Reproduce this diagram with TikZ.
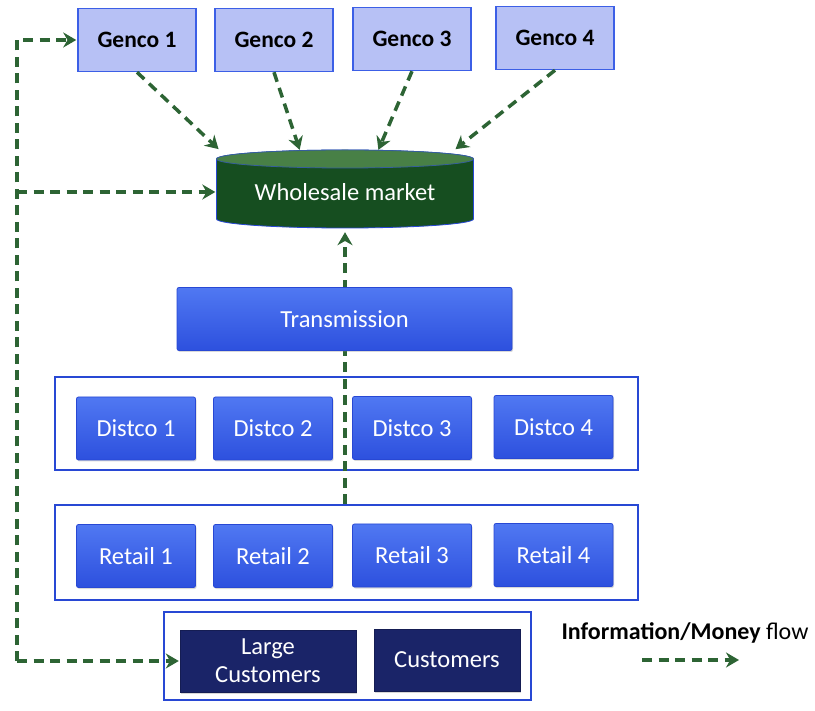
\documentclass[tikz,border=0pt]{standalone}
\usepackage{fontspec}
\setmainfont{Carlito}
\usetikzlibrary{arrows.meta,shadows,calc}

\definecolor{gencofill}{RGB}{183,193,245}
\definecolor{gencodraw}{RGB}{60,95,230}
\definecolor{wmbody}{RGB}{22,78,32}
\definecolor{wmtop}{RGB}{72,128,70}
\definecolor{bluetop}{RGB}{80,120,242}
\definecolor{bluebot}{RGB}{45,80,222}
\definecolor{bluedraw}{RGB}{40,72,212}
\definecolor{navy}{RGB}{26,36,104}
\definecolor{flowgreen}{RGB}{45,100,52}

\begin{document}
\begin{tikzpicture}[x=1pt,y=-1pt,
  lbl/.style={font=\fontsize{24.5}{28}\selectfont},
  genco/.style={draw=gencodraw, line width=1.5pt, fill=gencofill,
    minimum width=118pt, minimum height=63pt, inner sep=0pt,
    font=\fontsize{23.5}{28}\selectfont\bfseries, text=black},
  bluebox/.style={lbl, draw=bluedraw, line width=0.8pt, top color=bluetop,
    bottom color=bluebot, rounded corners=2pt, text=white,
    minimum width=119pt, minimum height=63pt, inner sep=0pt,
    drop shadow={shadow xshift=1pt, shadow yshift=-1.5pt, opacity=0.3}},
  navybox/.style={lbl, fill=navy, draw=navy!80!black, text=white,
    minimum height=62pt, inner sep=0pt, align=center,
    drop shadow={shadow xshift=1pt, shadow yshift=-1.5pt, opacity=0.3}},
  group/.style={draw=bluedraw, line width=1.5pt, fill=white, inner sep=0pt},
  flowline/.style={draw=flowgreen, line width=3.5pt, dash pattern=on 10pt off 6.5pt},
  flow/.style={flowline, -{Stealth[length=13pt,width=15pt]}, shorten >=1pt}]

\useasboundingbox (0,0) rectangle (815,711);

% generating companies
\node[genco] (g1) at (137,40) {Genco 1};
\node[genco] (g2) at (274,40) {Genco 2};
\node[genco] (g3) at (412,39) {Genco 3};
\node[genco] (g4) at (555,38) {Genco 4};

% wholesale market drawn as a cylinder
\fill[wmbody, draw=bluedraw, line width=0.8pt]
  (216.5,159) -- (216.5,219)
  arc[start angle=180, end angle=360, x radius=128.5pt, y radius=9pt]
  -- (473.5,159)
  arc[start angle=0, end angle=180, x radius=128.5pt, y radius=9pt] -- cycle;
\filldraw[fill=wmtop, draw=bluedraw!60!wmtop, line width=0.8pt]
  (345,159) ellipse [x radius=128.5pt, y radius=9pt];
\node[lbl, text=white, minimum width=257pt, minimum height=78pt, inner sep=0pt]
  (wm) at (345,192) {Wholesale market};

% grouping frames
\node[group, minimum width=583pt, minimum height=93pt] (dgrp) at (346.5,423.5) {};
\node[group, minimum width=583pt, minimum height=95pt] (rgrp) at (346.5,552.5) {};
\node[group, minimum width=367pt, minimum height=88pt] (cgrp) at (347.5,656) {};

% flow from the retail layer up to the market (passes behind Transmission)
\draw[flow] (wm.south |- rgrp.north) -- (wm.south);

% transmission
\node[bluebox, minimum width=335pt] (tr) at (344.5,319) {Transmission};

% distribution companies
\node[bluebox] (d1) at (136,428.5) {Distco 1};
\node[bluebox] (d2) at (273,428.5) {Distco 2};
\node[bluebox] (d3) at (412,428) {Distco 3};
\node[bluebox] (d4) at (553.5,427) {Distco 4};

% retailers
\node[bluebox] (r1) at (136,556) {Retail 1};
\node[bluebox] (r2) at (273,556) {Retail 2};
\node[bluebox] (r3) at (412,555.5) {Retail 3};
\node[bluebox] (r4) at (553.5,555) {Retail 4};

% customers
\node[navybox, minimum width=176pt] (lc) at (268,661) {Large\\Customers};
\node[navybox, minimum width=146pt] (cu) at (447,660) {Customers};

% gencos to market
\draw[flow] (g1.south) -- ($(wm.north west)+(3,-3)$);
\draw[flow] (g2.south) -- ($(wm.north)+(-45,-2)$);
\draw[flow] (g3.south) -- ($(wm.north)+(33,-2)$);
\draw[flow] (g4.south) -- ($(wm.north east)+(-19,-3)$);

% left-hand return path
\coordinate (lx) at (17,0);
\draw[flow] (lc.west -| lx) -- (g1.west -| lx) -- (g1.west);
\draw[flow] (wm.west -| lx) -- (wm.west);
\draw[flow] (lc.west -| lx) -- (lc.west);

% legend
\node[font=\fontsize{24}{28}\selectfont] (legend) at (685,633)
  {\textbf{Information/Money} flow};
\coordinate (la) at (642,660);
\coordinate (lb) at (740,660);
\draw[flow] (la) -- (lb);
\end{tikzpicture}
\end{document}
